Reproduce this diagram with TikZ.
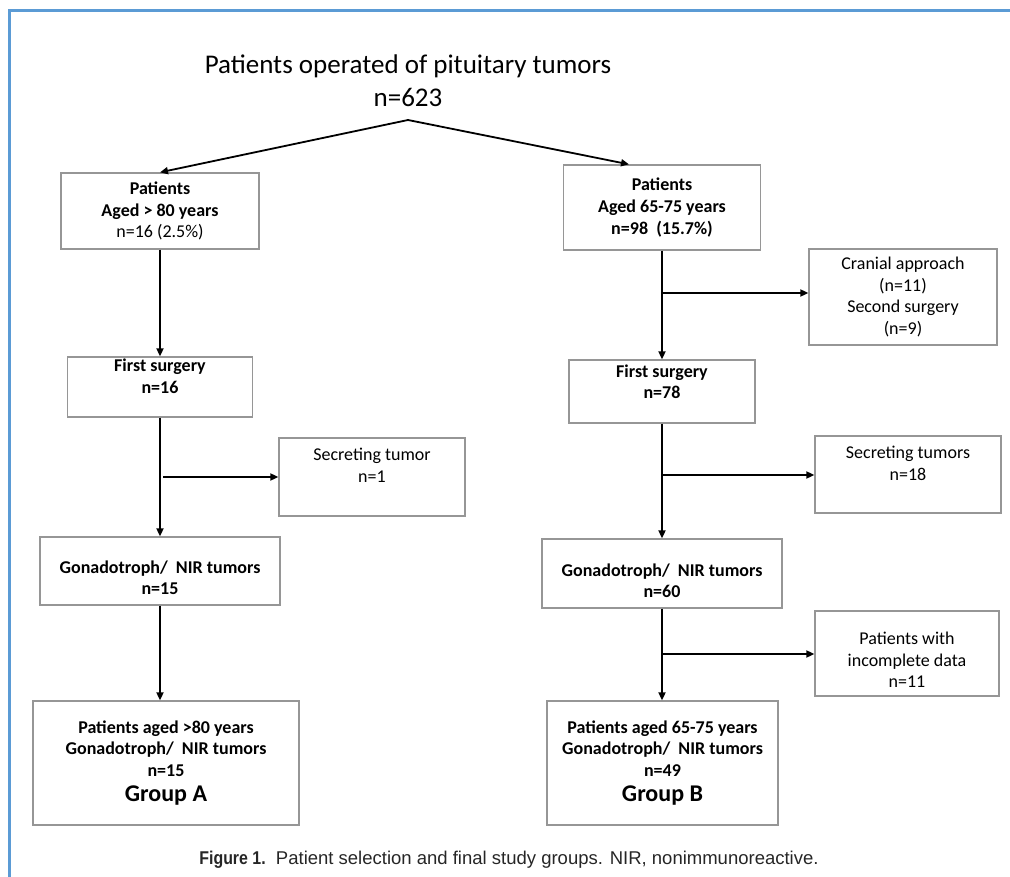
\documentclass[tikz,border=0pt]{standalone}
\usepackage{fontspec}
\setmainfont{Carlito}
\newfontfamily\capfont{Liberation Sans}[BoldFeatures={FakeStretch=0.86}]
\usetikzlibrary{arrows.meta, positioning, calc}

\definecolor{frameblue}{RGB}{91,155,213}
\definecolor{boxgray}{RGB}{150,150,150}

% padding struts to move text inside a box
\newcommand{\toppad}[1]{\rule{0pt}{#1}}
\newcommand{\bottompad}[1]{\rule[-#1]{0pt}{#1}}

\begin{document}
\begin{tikzpicture}[
        x=1pt, y=-1pt,
        box/.style={rectangle, draw=boxgray, line width=1.3pt, align=center, inner sep=0pt,
            font=\fontsize{18}{21.6}\selectfont\bfseries},
        plainbox/.style={box, font=\fontsize{18}{21.6}\selectfont},
        flow/.style={-{Triangle[length=8pt, width=7pt]}, line width=1.8pt}
    ]
    \useasboundingbox (0,0) rectangle (1010,877);

    % Frame
    \draw[frameblue, line width=3pt] (1010,11) -- (9,11) -- (9,877);

    % Title
    \node[align=center, font=\fontsize{27}{33}\selectfont] (title) at (408,81)
        {Patients operated of pituitary tumors\\n=623};

    % Age groups
    \node[box, minimum width=198pt, minimum height=76pt] (agedA) at (160,211)
        {Patients\\Aged > 80 years\\\mdseries n=16 (2.5\%)};
    \node[box, minimum width=197pt, minimum height=85pt] (agedB) at (662,207.5)
        {Patients\\Aged 65-75 years\\n=98\ \ (15.7\%)};
    \node[plainbox, minimum width=188pt, minimum height=96pt] (cranial) at (903,297)
        {Cranial approach\\(n=11)\\Second surgery\\(n=9)};

    % First surgery
    \node[box, minimum width=185pt, minimum height=60pt] (firstA) at (160,387)
        {First surgery\\n=16\bottompad{22pt}};
    \node[box, minimum width=186pt, minimum height=63pt] (firstB) at (662,391.5)
        {First surgery\\n=78\bottompad{20pt}};
    \node[plainbox, minimum width=186pt, minimum height=78pt] (secA) at (372,477)
        {Secreting tumor\\n=1\bottompad{24pt}};
    \node[plainbox, minimum width=186pt, minimum height=77pt] (secB) at (908,474.5)
        {Secreting tumors\\n=18\bottompad{22pt}};

    % Gonadotroph / NIR
    \node[box, minimum width=240pt, minimum height=68pt] (gonA) at (160,571)
        {\toppad{26.5pt}Gonadotroph/\ \ NIR tumors\\n=15};
    \node[box, minimum width=240pt, minimum height=69pt] (gonB) at (662,573.5)
        {\toppad{27.5pt}Gonadotroph/\ \ NIR tumors\\n=60};
    \node[plainbox, minimum width=184pt, minimum height=85pt] (incomplete) at (907,653.5)
        {\toppad{25.5pt}Patients with\\incomplete data\\n=11};

    % Study groups
    \node[box, minimum width=266pt, minimum height=124pt] (groupA) at (166,763)
        {Patients aged >80 years\\Gonadotroph/\ \ NIR tumors\\n=15\\[4pt]{\fontsize{24}{28}\selectfont Group A}};
    \node[box, minimum width=231pt, minimum height=124pt] (groupB) at (662.5,763)
        {Patients aged 65-75 years\\Gonadotroph/\ \ NIR tumors\\n=49\\[4pt]{\fontsize{24}{28}\selectfont Group B}};

    % Caption
    \node[font=\capfont\fontsize{18.5}{22}\selectfont, text=black!85] (caption) at (509,860)
        {\textbf{Figure 1.}\ \ Patient selection and final study groups. NIR, nonimmunoreactive.};

    % Split from the title
    \coordinate (apex) at (408,120);
    \draw[flow] (apex) -- (agedA.north);
    \draw[flow] (apex) -- ([xshift=-33pt]agedB.north);

    % Left column
    \draw[flow] (agedA.south) -- (agedA.south |- firstA.north);
    \draw[flow] (firstA.south) -- (firstA.south |- gonA.north);
    \draw[flow] (gonA.south) -- (gonA.south |- groupA.north);
    \coordinate (splitA) at (163,477);
    \draw[flow] (splitA) -- (splitA -| secA.west);

    % Right column
    \draw[flow] (agedB.south) -- (agedB.south |- firstB.north);
    \draw[flow] (firstB.south) -- (firstB.south |- gonB.north);
    \draw[flow] (gonB.south) -- (gonB.south |- groupB.north);
    \coordinate (splitB1) at (662,293);
    \coordinate (splitB2) at (662,475);
    \coordinate (splitB3) at (662,654);
    \draw[flow] (splitB1) -- (splitB1 -| cranial.west);
    \draw[flow] (splitB2) -- (splitB2 -| secB.west);
    \draw[flow] (splitB3) -- (splitB3 -| incomplete.west);

\end{tikzpicture}
\end{document}
